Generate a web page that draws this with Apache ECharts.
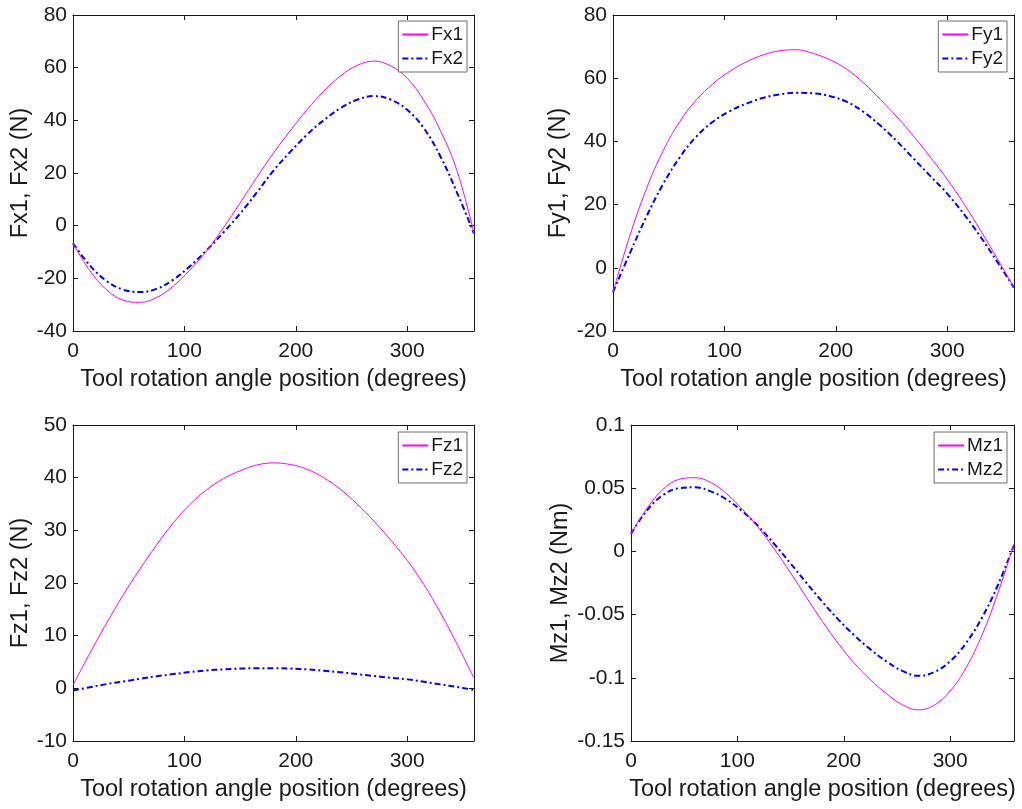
<!DOCTYPE html>
<html>
<head>
<meta charset="utf-8">
<script src="https://cdn.jsdelivr.net/npm/echarts@6/dist/echarts.min.js"></script>
<style>
  html, body { margin: 0; padding: 0; background: #fff; }
  #chart { width: 1022px; height: 809px; }
</style>
</head>
<body>
<div id="chart"></div>
<script>
// angle positions (degrees)
const angles = [0, 15, 30, 45, 60, 75, 90, 105, 120, 135, 150, 165, 180,
  195, 210, 225, 240, 255, 270, 285, 300, 315, 330, 345, 360];

// Fx (N)
const fx1 = [-6.7, -17, -24.3, -28.3, -29.1, -27.3, -23.0, -16.8, -9.6, -0.8, 8.6, 18.3, 27.6,
  36.0, 44.0, 51.0, 56.8, 60.8, 62.5, 60.7, 56.0, 47.5, 36.0, 20.5, -3];
const fx2 = [-6.7, -15, -21, -24.3, -25.2, -24, -20.5, -15.4, -9.3, -2.6, 4.6, 12.6, 20.9,
  28.0, 34.5, 40.0, 44.6, 47.8, 49.2, 47.9, 44.0, 37.0, 26.2, 12.3, -3];

// Fy (N)
const fy1 = [-7.7, 10, 25, 37, 46.3, 53.2, 58.3, 62.2, 65.2, 67.4, 68.7, 69.0, 67.8,
  65.8, 62.8, 58.5, 53.3, 47.7, 41.6, 35.0, 28.0, 20.3, 11.8, 2.9, -6.3];
const fy2 = [-7.7, 4.5, 16.2, 26.5, 35.0, 41.6, 46.3, 49.6, 52.0, 53.8, 54.9, 55.4, 55.2,
  54.3, 52.5, 49.3, 45.0, 40.0, 34.5, 29.0, 23.5, 17.0, 9.8, 1.9, -6.3];

// Fz (N)
const fz1 = [0.6, 6.6, 12.3, 17.7, 22.6, 27.2, 31.4, 34.9, 37.7, 39.8, 41.3, 42.4, 42.8,
  42.5, 41.6, 40.0, 37.8, 35.0, 31.8, 28.2, 24.3, 19.7, 14.3, 8.3, 1.9];
const fz2 = [-0.4, 0.2, 0.8, 1.3, 1.8, 2.3, 2.7, 3.1, 3.4, 3.6, 3.75, 3.8, 3.8,
  3.75, 3.6, 3.35, 3.05, 2.7, 2.35, 2.0, 1.7, 1.25, 0.75, 0.25, -0.3];

// Mz (Nm)
const mz1 = [0.014, 0.034, 0.049, 0.0570, 0.0583, 0.0545, 0.0455, 0.0330, 0.0185, 0.0015, -0.0170, -0.0365, -0.0555,
  -0.0730, -0.0885, -0.1015, -0.1125, -0.1213, -0.1254, -0.1217, -0.1105, -0.0920, -0.0660, -0.0326, 0.006];
const mz2 = [0.014, 0.0325, 0.0445, 0.0500, 0.0507, 0.0475, 0.0410, 0.0315, 0.0195, 0.0055, -0.0095, -0.0250, -0.0400,
  -0.0540, -0.0665, -0.0775, -0.0870, -0.0945, -0.0984, -0.0955, -0.0869, -0.0725, -0.0523, -0.0264, 0.005];

const xLabel = 'Tool rotation angle position (degrees)';
const font = "'Liberation Sans', Arial, sans-serif";
const ink = '#1a1a1a';

const panels = [
  { names: ['Fx1', 'Fx2'], data: [fx1, fx2], yName: 'Fx1, Fx2 (N)', min: -40, max: 80, step: 20,
    grid: { left: 73, top: 15, width: 401, height: 316 }, nameGap: 40, legend: { right: 555, top: 21 } },
  { names: ['Fy1', 'Fy2'], data: [fy1, fy2], yName: 'Fy1, Fy2 (N)', min: -20, max: 80, step: 20,
    grid: { left: 613, top: 15, width: 401, height: 316 }, nameGap: 42, legend: { right: 15, top: 21 } },
  { names: ['Fz1', 'Fz2'], data: [fz1, fz2], yName: 'Fz1, Fz2 (N)', min: -10, max: 50, step: 10,
    grid: { left: 73, top: 425, width: 401, height: 316 }, nameGap: 40, legend: { right: 555, top: 432 } },
  { names: ['Mz1', 'Mz2'], data: [mz1, mz2], yName: 'Mz1, Mz2 (Nm)', min: -0.15, max: 0.1, step: 0.05,
    grid: { left: 631, top: 425, width: 383, height: 316 }, nameGap: 58, legend: { right: 15, top: 432 } }
];

const grids = [], xAxes = [], yAxes = [], series = [], legends = [];

panels.forEach((p, i) => {
  grids.push(Object.assign({ containLabel: false }, p.grid));

  const tick = { show: true, inside: true, length: 5, lineStyle: { color: ink, width: 1 } };
  const line = { show: true, onZero: false, lineStyle: { color: ink, width: 1 } };

  // bottom / top x axes
  xAxes.push({
    type: 'value', gridIndex: i, position: 'bottom', min: 0, max: 360, interval: 100,
    axisLine: line, axisTick: tick, splitLine: { show: false },
    axisLabel: { color: ink, fontSize: 21, fontFamily: font, margin: 10, showMaxLabel: false },
    name: xLabel, nameLocation: 'middle', nameGap: 37,
    nameTextStyle: { color: ink, fontSize: 23.5, fontFamily: font }
  });
  xAxes.push({
    type: 'value', gridIndex: i, position: 'top', min: 0, max: 360, interval: 100,
    axisLine: line, axisTick: tick, splitLine: { show: false }, axisLabel: { show: false }
  });

  // left / right y axes
  yAxes.push({
    type: 'value', gridIndex: i, position: 'left', min: p.min, max: p.max, interval: p.step,
    axisLine: line, axisTick: tick, splitLine: { show: false },
    axisLabel: { color: ink, fontSize: 21, fontFamily: font, margin: 6 },
    name: p.yName, nameLocation: 'middle', nameGap: p.nameGap, nameRotate: 90,
    nameTextStyle: { color: ink, fontSize: 23.5, fontFamily: font }
  });
  yAxes.push({
    type: 'value', gridIndex: i, position: 'right', min: p.min, max: p.max, interval: p.step,
    axisLine: line, axisTick: tick, splitLine: { show: false }, axisLabel: { show: false }
  });

  series.push({
    name: p.names[0], type: 'line', xAxisIndex: i * 2, yAxisIndex: i * 2,
    data: angles.map((a, k) => [a, p.data[0][k]]),
    showSymbol: false, symbol: 'none', smooth: 0.4,
    lineStyle: { color: '#ff00ff', width: 1 }, itemStyle: { color: '#ff00ff' },
    z: 3
  });
  series.push({
    name: p.names[1], type: 'line', xAxisIndex: i * 2, yAxisIndex: i * 2,
    data: angles.map((a, k) => [a, p.data[1][k]]),
    showSymbol: false, symbol: 'none', smooth: 0.4,
    lineStyle: { color: '#0000ff', width: 2, type: [6, 3, 2, 3] }, itemStyle: { color: '#0000ff' },
    z: 2
  });

  legends.push({
    data: p.names, orient: 'vertical', right: p.legend.right, top: p.legend.top,
    backgroundColor: '#fff', borderColor: '#6e6e6e', borderWidth: 1,
    padding: [4, 4, 4, 3], itemGap: 5, itemWidth: 26, itemHeight: 20,
    itemStyle: { opacity: 0 },
    textStyle: { color: ink, fontSize: 19, fontFamily: font, padding: [0, 0, 0, -2] },
    selectedMode: false
  });
});

const chart = echarts.init(document.getElementById('chart'), null, { renderer: 'canvas' });
chart.setOption({
  backgroundColor: '#fff',
  animation: false,
  grid: grids,
  xAxis: xAxes,
  yAxis: yAxes,
  legend: legends,
  series: series
});
</script>
</body>
</html>
